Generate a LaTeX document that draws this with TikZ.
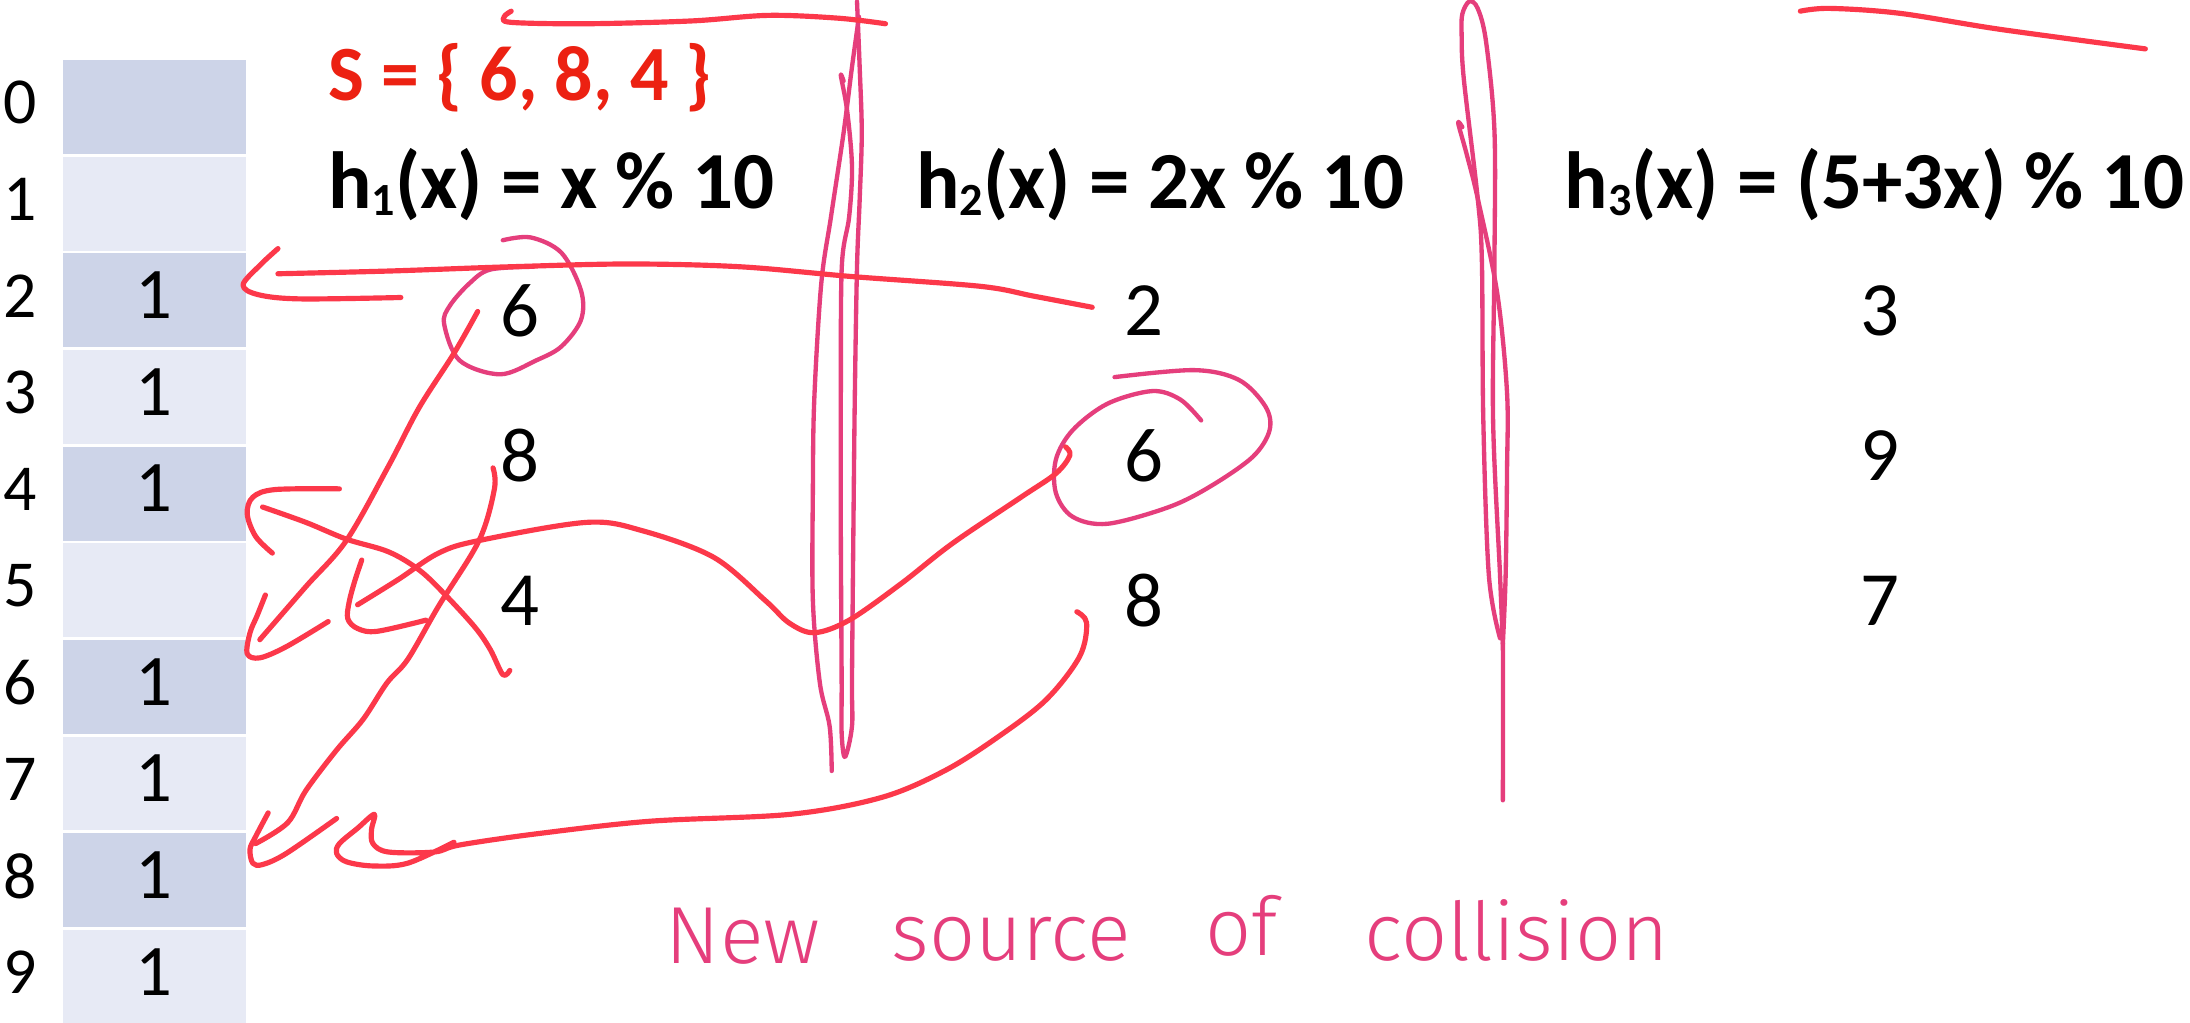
\documentclass[tikz,border=0pt]{standalone}
\usepackage{fontspec}
\setmainfont{Carlito}
\newfontfamily\handfont{Fira Sans Light}
\definecolor{cellA}{RGB}{205,212,232}
\definecolor{cellB}{RGB}{231,234,245}
\definecolor{inkred}{RGB}{252,56,74}
\definecolor{inkpink}{RGB}{229,62,124}
\definecolor{sred}{RGB}{236,33,18}
\newcommand\hsub[1]{\raisebox{-0.09em}{\fontsize{33}{33}\selectfont #1}}
\begin{document}
\begin{tikzpicture}[x=1pt,y=-1pt,
  redink/.style={draw=inkred,line width=3.7pt,line cap=round,line join=round},
  pinkink/.style={draw=inkpink,line width=3.1pt,line cap=round,line join=round},
  cellbox/.style={minimum width=131pt,minimum height=67.2pt,inner sep=0pt},
  rowlbl/.style={inner sep=0pt,font=\fontsize{47}{56}\selectfont},
  cellval/.style={inner sep=0pt,font=\fontsize{52}{60}\selectfont},
  hdr/.style={anchor=base west,inner sep=0pt,font=\fontsize{58}{68}\selectfont\bfseries},
  val/.style={inner sep=0pt,font=\fontsize{55}{66}\selectfont},
  handtxt/.style={anchor=base,inner sep=0pt,text=inkpink,font=\handfont\fontsize{58}{68}\selectfont}]
\useasboundingbox (0,0) rectangle (1568,732);
\fill[white] (0,0) rectangle (1568,732);

% table
\foreach \i/\t in {0/{},1/{},2/1,3/1,4/1,5/{},6/1,7/1,8/1,9/1}{
  \pgfmathtruncatemacro\odd{mod(\i,2)}
  \ifnum\odd=0 \def\cc{cellA}\else\def\cc{cellB}\fi
  \node[cellbox,fill=\cc] (c\i) at (110.5,{76.6+69.2*\i}) {};
  \node[cellval] (v\i) at (110.5,{73+69.2*\i}) {\t};
  \node[rowlbl] (l\i) at (14.5,{73.5+69.2*\i}) {\i};
}

% headers
\node[hdr,text=sred,font=\fontsize{56}{66}\selectfont\bfseries] (S) at (235,71.6) {\scalebox{0.97}[1]{S = \{ 6, 8, 4 \}}};
\node[hdr] (h1) at (235,149) {h\hsub{1}(x) = x \% 10};
\node[hdr] (h2) at (656,149) {h\hsub{2}(x) = 2x \% 10};
\node[hdr] (h3) at (1120,149) {h\hsub{3}(x) = (5+3x) \% 10};

% values
\node[val] (a1) at (372,222.5) {6};
\node[val] (a2) at (372,326.5) {8};
\node[val] (a3) at (372,430) {4};
\node[val] (b1) at (819,222.5) {2};
\node[val] (b2) at (819,326.5) {6};
\node[val] (b3) at (819,430) {8};
\node[val] (d1) at (1346,222.5) {3};
\node[val] (d2) at (1346,326.5) {9};
\node[val] (d3) at (1346,430) {7};

% pink ink
\draw[pinkink] plot[smooth,tension=0.55] coordinates {(360,172) (380,170) (402,181) (416,208) (416,229) (402,248) (384,258) (358,268) (329,258) (318,232) (322,219) (336,203) (351,193) (382,191)};
\draw[pinkink] plot[smooth,tension=0.55] coordinates {(798,270) (855,265) (887,272) (906,291) (909,308) (897,327) (867,348) (837,363) (793,375) (768,370) (756,353) (756,329) (768,308) (793,289) (825,280) (845,286) (860,301)};
\draw[pinkink] plot[smooth,tension=0.55] coordinates {(615,12) (610,48) (604,95) (595,155) (588,203) (583,286) (582,350) (582,430) (587,489) (594,520) (595.5,552)};
\draw[pinkink] plot[smooth,tension=0.55] coordinates {(613.6,1) (615.5,48) (617,95) (615.5,143) (613.6,191) (612,286) (611,380) (610,487) (610,520) (605,542) (602.6,525) (602.6,487) (602,380) (602,286) (602.7,191) (608,155) (610,119) (606.5,79) (602,54) (604,58)};
\draw[pinkink] plot[smooth,tension=0.55] coordinates {(1076,573) (1076,461) (1074,412) (1069,300) (1070,187) (1070,94) (1064,30) (1058,6) (1052,1) (1047,10) (1046.5,25) (1048,56) (1058,142) (1061,187) (1062,300) (1066,412) (1074,457)};
\draw[pinkink] plot[smooth,tension=0.55] coordinates {(1047,91) (1044,88) (1050,110) (1058,142) (1072,210) (1079,281) (1079,337) (1078,412) (1076,461)};

% red ink
\draw[redink] plot[smooth,tension=0.55] coordinates {(366,8) (361,12) (366,16) (420,17) (495,15) (550,11) (600,13) (634,17)};
\draw[redink] plot[smooth,tension=0.55] coordinates {(1289,8) (1310,6) (1360,9.5) (1432,21) (1536,35)};
\draw[redink] plot[smooth,tension=0.55] coordinates {(199,196) (280,194) (365,191) (450,189) (530,191) (610,198) (702,205) (740,212) (782,220)};
\draw[redink] plot[smooth,tension=0.55] coordinates {(199,178) (186,190) (174,204) (185,211) (215,214) (287,213)};
\draw[redink] plot[smooth,tension=0.55] coordinates {(342,223) (325,253) (300,292) (278,334) (248,387) (219,420) (186,458)};
\draw[redink] plot[smooth,tension=0.55] coordinates {(190,426) (184,441) (179,453) (177,468) (186,471) (205,463) (235,445)};
\draw[redink] plot[smooth,tension=0.55] coordinates {(353,335) (354,350) (343,387) (314,434) (292,472) (277,489) (260,515) (241,537) (219,566) (206,589) (183,604)};
\draw[redink] plot[smooth,tension=0.55] coordinates {(192,582) (183,599) (179,608) (181,618) (188,619) (205,611) (241,586)};
\draw[redink] plot[smooth,tension=0.55] coordinates {(188,363) (219,374) (248,386) (278,395) (300,408) (318,425) (340,449) (351,465) (360,483) (365,480)};
\draw[redink] plot[smooth,tension=0.55] coordinates {(243,350) (197,350.5) (181,356) (177,368) (183,384) (195,396)};
\draw[redink] plot[smooth,tension=0.55] coordinates {(763,320) (766,326) (756,339) (731,356) (682,389) (645,418) (608,444) (583,453) (565,446) (548,430) (511,399) (460,380) (420,374) (343,387) (314,396) (285,415) (256,433)};
\draw[redink] plot[smooth,tension=0.55] coordinates {(259,401) (254,416) (250,431) (249,443) (256,450) (270,452) (305,444)};
\draw[redink] plot[smooth,tension=0.55] coordinates {(771,438) (778,446) (773,470) (749,501) (714,528) (676,552) (631,571) (566,583) (465,588) (384,597) (329,605) (311,610) (278,610) (267,604) (266,594) (268,583) (256,593) (243,604) (241,611) (248,617) (267,620) (292,618) (325,603)};

% handwritten note
\node[handtxt] (w1) at (532,690) {New};
\node[handtxt] (w2) at (724,688) {source};
\node[handtxt] (w3) at (889,684) {of};
\node[handtxt] (w4) at (1086,688) {collision};
\end{tikzpicture}
\end{document}
